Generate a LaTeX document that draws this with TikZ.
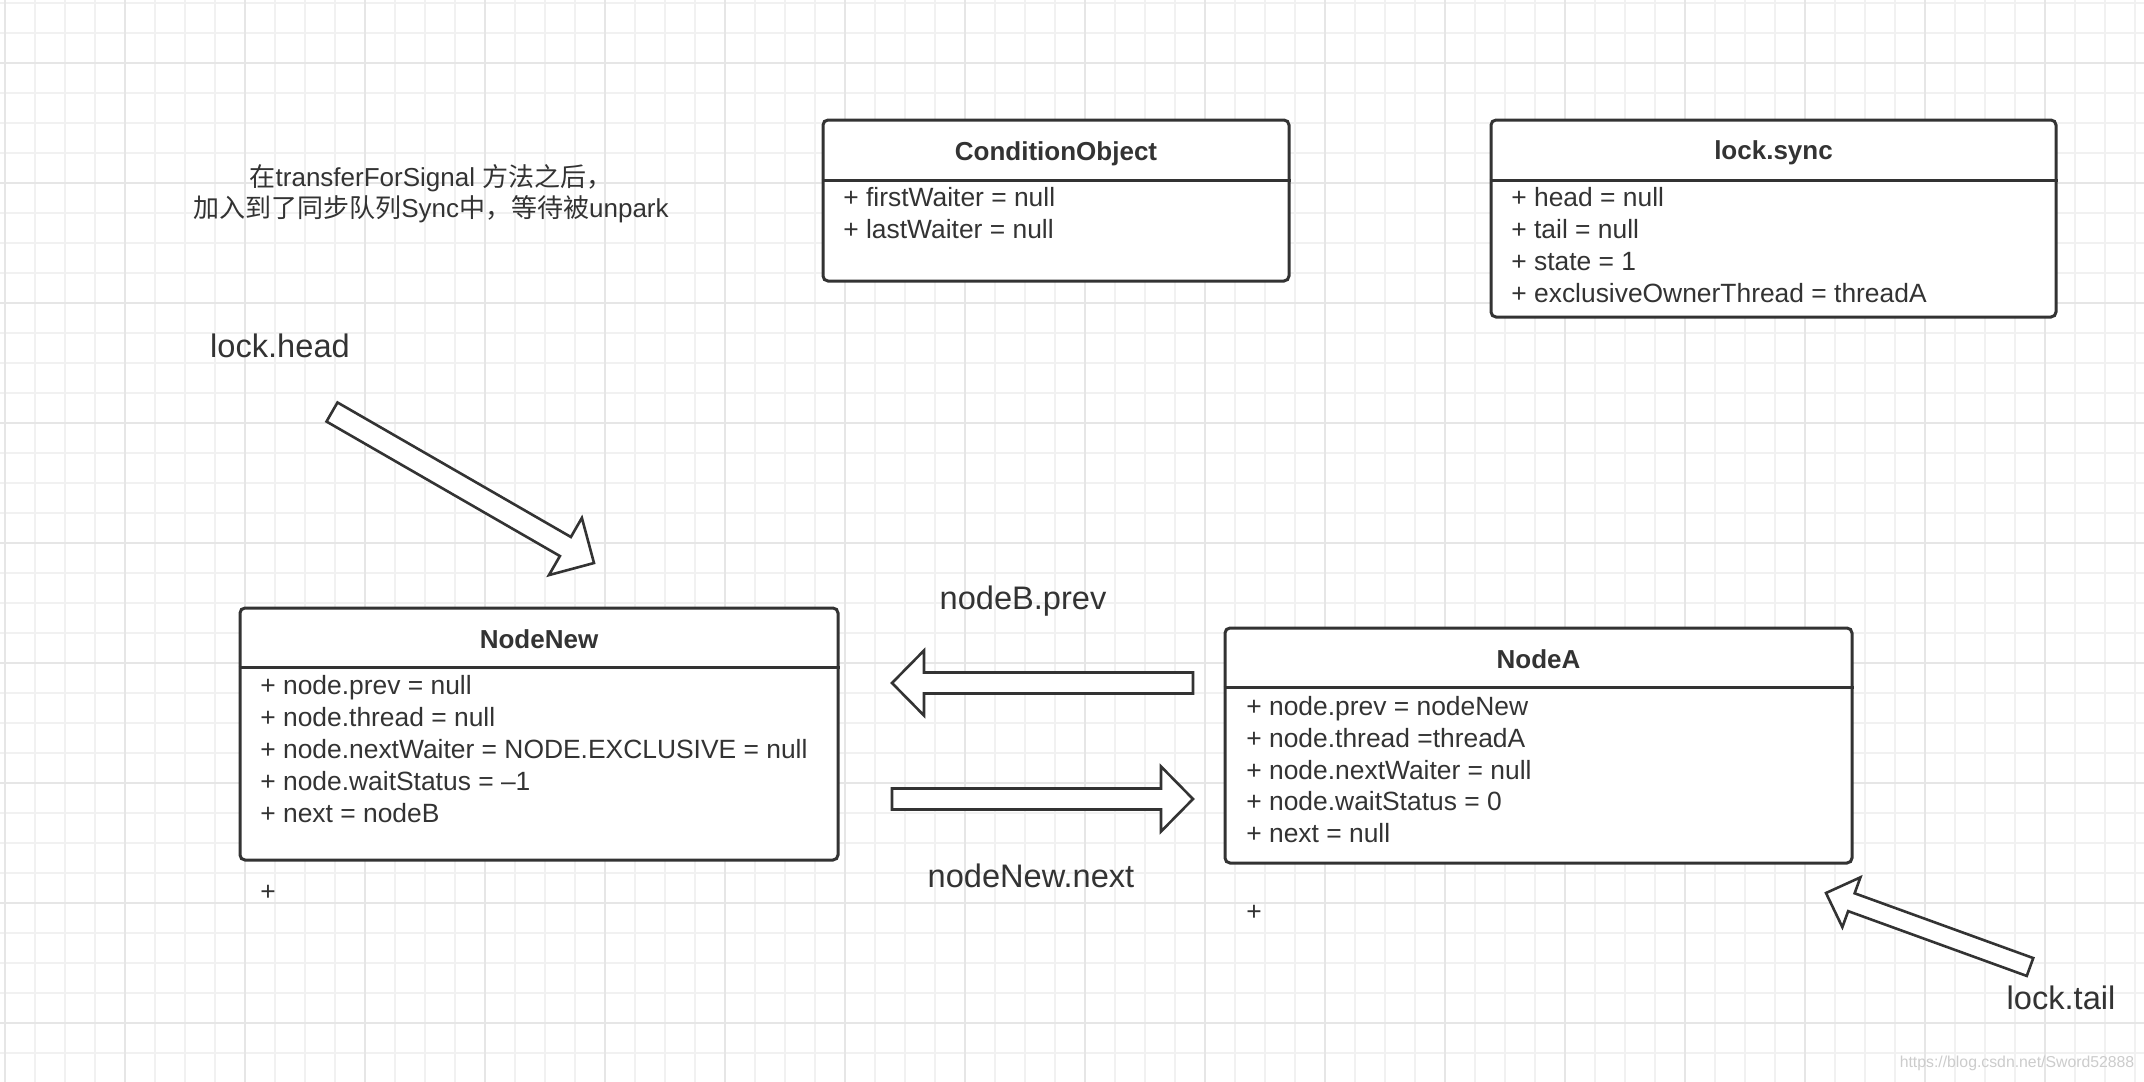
\documentclass[tikz,border=0pt]{standalone}
\usepackage{fontspec}
\setmainfont{Liberation Sans}
\newfontfamily\cjkfont{Noto Sans CJK SC}
\usetikzlibrary{calc}
\definecolor{ink}{HTML}{333333}
\definecolor{gridminor}{HTML}{F1F1F1}
\definecolor{gridmajor}{HTML}{E6E6E6}

\begin{document}
\begin{tikzpicture}[x=0.5pt, y=-0.5pt]
\tikzstyle{umlbox}=[rectangle, draw=ink, line width=1.5pt, rounded corners=2.5pt, fill=white, inner sep=0pt]
\tikzstyle{boxline}=[draw=ink, line width=1.5pt]
\tikzstyle{classtitle}=[anchor=base, inner sep=0pt, text=ink, font=\fontsize{13}{15}\selectfont\bfseries]
\tikzstyle{attr}=[anchor=base west, inner sep=0pt, text=ink, font=\fontsize{13.2}{16}\selectfont]
\tikzstyle{ptrtext}=[anchor=base, inner sep=0pt, text=ink, font=\fontsize{16.3}{19}\selectfont]
\tikzset{blockarrow/.style n args={3}{draw=ink, line width=1.3pt, fill=white,
  to path={let \p1=(\tikztostart), \p2=(\tikztotarget),
    \n1={atan2(\y2-\y1,\x2-\x1)}, \n2={veclen(\x2-\x1,\y2-\y1)-#3pt} in
    ($(\p1)+(\n1+90:#1pt)$) -- ($(\p1)+(\n1:\n2)+(\n1+90:#1pt)$)
    -- ($(\p1)+(\n1:\n2)+(\n1+90:#2pt)$) -- (\p2)
    -- ($(\p1)+(\n1:\n2)+(\n1-90:#2pt)$) -- ($(\p1)+(\n1:\n2)+(\n1-90:#1pt)$)
    -- ($(\p1)+(\n1-90:#1pt)$) -- cycle}}}

\useasboundingbox (0,0) rectangle (2144,1082);
\fill[white] (0,0) rectangle (2144,1082);

% grid
\foreach \gx in {5,35,...,2135} \draw[gridminor, line width=0.6pt] (\gx,0) -- (\gx,1082);
\foreach \gy in {3,33,...,1082} \draw[gridminor, line width=0.6pt] (0,\gy) -- (2144,\gy);
\foreach \gx in {5,125,...,2135} \draw[gridmajor, line width=0.9pt] (\gx,0) -- (\gx,1082);
\foreach \gy in {63,183,...,1082} \draw[gridmajor, line width=0.9pt] (0,\gy) -- (2144,\gy);

\node[align=center, inner sep=0pt, text=ink, font=\fontsize{13}{15.5}\selectfont] (note) at (431,194)
  {{\cjkfont 在}transferForSignal {\cjkfont 方法之后，}\\{\cjkfont 加入到了同步队列}Sync{\cjkfont 中，等待被}unpark};

% ConditionObject
\node[umlbox, minimum width=233pt, minimum height=80.5pt] (CO) at (1056,200.5) {};
\draw[boxline] (CO.west |- 0,180) -- (CO.east |- 0,180);
\node[classtitle] (COt) at (1056,160) {ConditionObject};
\node[attr] (COr1) at (843,206) {+ firstWaiter = null};
\node[attr] (COr2) at (843,238) {+ lastWaiter = null};

% lock.sync
\node[umlbox, minimum width=282.5pt, minimum height=98.5pt] (LS) at (1773.5,218.5) {};
\draw[boxline] (LS.west |- 0,180) -- (LS.east |- 0,180);
\node[classtitle] (LSt) at (1773.5,159) {lock.sync};
\node[attr] (LSr1) at (1511,206) {+ head = null};
\node[attr] (LSr2) at (1511,238) {+ tail = null};
\node[attr] (LSr3) at (1511,270) {+ state = 1};
\node[attr] (LSr4) at (1511,302) {+ exclusiveOwnerThread = threadA};

% NodeNew
\node[umlbox, minimum width=299pt, minimum height=126pt] (NN) at (539,734) {};
\draw[boxline] (NN.west |- 0,667) -- (NN.east |- 0,667);
\node[classtitle] (NNt) at (539,648) {NodeNew};
\node[attr] (NNr1) at (260,694) {+ node.prev = null};
\node[attr] (NNr2) at (260,726) {+ node.thread = null};
\node[attr] (NNr3) at (260,758) {+ node.nextWaiter = NODE.EXCLUSIVE = null};
\node[attr] (NNr4) at (260,790) {+ node.waitStatus = –1};
\node[attr] (NNr5) at (260,822) {+ next = nodeB};
\node[attr] (NNr6) at (260,900) {+};

% NodeA
\node[umlbox, minimum width=313.5pt, minimum height=117.5pt] (NA) at (1538.5,745.5) {};
\draw[boxline] (NA.west |- 0,687) -- (NA.east |- 0,687);
\node[classtitle] (NAt) at (1538.5,668) {NodeA};
\node[attr] (NAr1) at (1246,715) {+ node.prev = nodeNew};
\node[attr] (NAr2) at (1246,747) {+ node.thread =threadA};
\node[attr] (NAr3) at (1246,779) {+ node.nextWaiter = null};
\node[attr] (NAr4) at (1246,810) {+ node.waitStatus = 0};
\node[attr] (NAr5) at (1246,842) {+ next = null};
\node[attr] (NAr6) at (1246,920) {+};

% pointers
\node[ptrtext] (headLbl) at (280,357) {lock.head};
\node[ptrtext] (prevLbl) at (1023,609) {nodeB.prev};
\node[ptrtext] (nextLbl) at (1031,887) {nodeNew.next};
\node[ptrtext] (tailLbl) at (2061,1009) {lock.tail};

\coordinate (headTail) at (332,412);
\coordinate (headTip) at (594,563);
\coordinate (prevTail) at (1193,683);
\coordinate (prevTip) at (892,683);
\coordinate (nextTail) at (892,799);
\coordinate (nextTip) at (1193,799);
\coordinate (tailTail) at (2030,967);
\coordinate (tailTip) at (1826,893);

\draw[blockarrow={5.5}{16.5}{16.5}] (headTail) to (headTip);
\draw[blockarrow={5.25}{16.25}{16}] (prevTail) to (prevTip);
\draw[blockarrow={5.25}{16.25}{16}] (nextTail) to (nextTip);
\draw[blockarrow={4.75}{13.25}{13.5}] (tailTail) to (tailTip);

\node[inner sep=0pt, text=gray!40, font=\fontsize{7.9}{9}\selectfont] (mark) at (2017,1063) {https://blog.csdn.net/Sword52888};
\end{tikzpicture}
\end{document}
